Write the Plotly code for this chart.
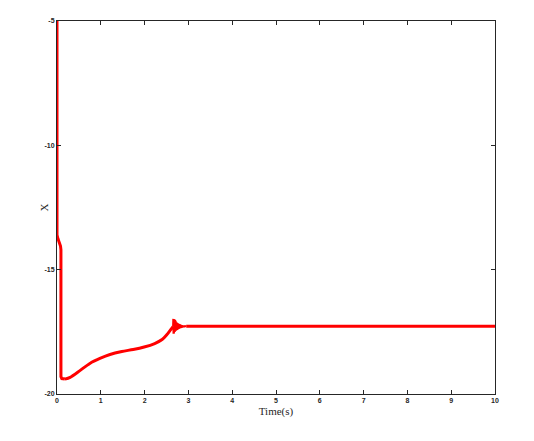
import plotly.graph_objects as go

# time response of X
# fast drop at t ~ 0
t_drop = [0.0, 0.0, 0.02, 0.05, 0.08, 0.09, 0.09, 0.11, 0.18]
x_drop = [-5.0, -13.6, -13.75, -13.9, -14.05, -14.2, -19.3, -19.38, -19.4]

# slow rise towards the settling point
t_rise = [0.18, 0.3, 0.53, 0.75, 0.98, 1.21, 1.48, 1.74, 1.99, 2.23, 2.4, 2.51, 2.58, 2.63, 2.65]
x_rise = [-19.4, -19.33, -19.05, -18.77, -18.57, -18.41, -18.29, -18.21, -18.11, -17.97,
          -17.81, -17.61, -17.45, -17.34, -17.28]

# fast decaying oscillation around t ~ 2.65 .. 2.95
t_osc = [2.65, 2.655, 2.66, 2.665, 2.67, 2.675, 2.68, 2.685, 2.69, 2.695, 2.70, 2.71,
         2.72, 2.73, 2.74, 2.75, 2.76, 2.77, 2.78, 2.79, 2.80, 2.81, 2.82, 2.83,
         2.84, 2.85, 2.86, 2.87, 2.88, 2.89, 2.90, 2.91, 2.92, 2.93, 2.94, 2.95]
x_osc = [-17.28, -16.98, -17.58, -16.99, -17.57, -17.01, -17.54, -17.03, -17.51, -17.05,
         -17.48, -17.09, -17.45, -17.12, -17.42, -17.15, -17.40, -17.17, -17.38, -17.19,
         -17.36, -17.20, -17.35, -17.22, -17.34, -17.23, -17.33, -17.24, -17.32, -17.25,
         -17.31, -17.26, -17.30, -17.27, -17.29, -17.28]

# steady state
t_tail = [2.95, 10.0]
x_tail = [-17.28, -17.28]

x_ticks = [0, 1, 2, 3, 4, 5, 6, 7, 8, 9, 10]
y_ticks = [-20, -15, -10, -5]
y_ticklabels = ["-20", "-15", "-10", "-5"]

axis_col = "#262626"
red = "#ff0000"
tick_font = dict(family="Liberation Sans, Arial", size=7, color=axis_col, weight="bold")
title_font = dict(family="Liberation Serif, Times New Roman", size=11, color=axis_col)

fig = go.Figure()
fig.add_trace(go.Scatter(x=t_drop, y=x_drop, mode="lines",
                         line=dict(color=red, width=3), showlegend=False))
fig.add_trace(go.Scatter(x=t_rise, y=x_rise, mode="lines",
                         line=dict(color=red, width=3, shape="spline", smoothing=0.8),
                         showlegend=False))
fig.add_trace(go.Scatter(x=t_osc, y=x_osc, mode="lines",
                         line=dict(color=red, width=2), showlegend=False))
fig.add_trace(go.Scatter(x=t_tail, y=x_tail, mode="lines",
                         line=dict(color=red, width=3), showlegend=False))

fig.update_xaxes(range=[0, 10], tickvals=x_ticks, showline=True, mirror="ticks",
                 linecolor=axis_col, linewidth=1, ticks="inside", ticklen=4,
                 tickcolor=axis_col, showgrid=False, zeroline=False,
                 tickfont=tick_font,
                 title=dict(text="Time(s)", font=title_font, standoff=3))
fig.update_yaxes(range=[-20, -5], tickvals=y_ticks, ticktext=y_ticklabels,
                 showline=True, mirror="ticks",
                 linecolor=axis_col, linewidth=1, ticks="inside", ticklen=4,
                 tickcolor=axis_col, showgrid=False, zeroline=False,
                 tickfont=tick_font)

# y title placed by hand, it sits close to the tick labels
fig.add_annotation(text="X", xref="paper", yref="paper", x=0, y=0.5,
                   xshift=-22, textangle=-90, showarrow=False, font=title_font)

fig.update_layout(width=526, height=433, margin=dict(l=49, r=39, t=9, b=47),
                  paper_bgcolor="white", plot_bgcolor="white")

fig.write_html("out.html")
